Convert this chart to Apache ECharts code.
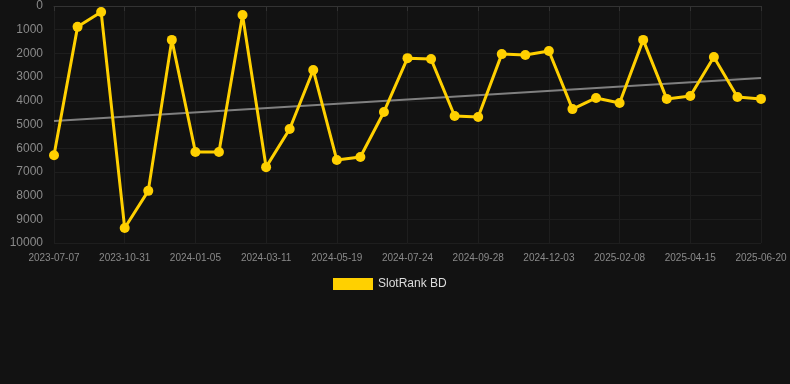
<!DOCTYPE html>
<html><head><meta charset="utf-8">
<script src="https://cdn.jsdelivr.net/npm/echarts@6/dist/echarts.min.js"></script>
<style>html,body{margin:0;padding:0;background:#121212;}#c{width:790px;height:384px;}</style>
</head><body><div id="c"></div>
<script>
const dates = ["2023-07-07","2023-08-15","2023-09-22","2023-10-31","2023-11-22","2023-12-14","2024-01-05","2024-01-27","2024-02-18","2024-03-11","2024-04-03","2024-04-26","2024-05-19","2024-06-10","2024-07-02","2024-07-24","2024-08-15","2024-09-06","2024-09-28","2024-10-20","2024-11-11","2024-12-03","2024-12-25","2025-01-17","2025-02-08","2025-03-02","2025-03-24","2025-04-15","2025-05-07","2025-05-29","2025-06-20"];
const ranks = [6300,880,250,9370,7800,1430,6160,6160,380,6800,5190,2700,6500,6370,4470,2200,2240,4640,4680,2030,2070,1900,4350,3880,4090,1430,3920,3800,2150,3840,3920];
const trendStart = 4850, trendEnd = 3040;
const trend = dates.map((d,i)=> i===0 ? trendStart : (i===dates.length-1 ? trendEnd : null));
const seriesName = "SlotRank BD";

const chart = echarts.init(document.getElementById('c'));
chart.setOption({
  backgroundColor:'#121212',
  animation:false,
  textStyle:{fontFamily:'Liberation Sans, Arial, sans-serif'},
  grid:{left:54,right:29,top:6,bottom:141},
  legend:{data:[seriesName],bottom:89,left:328,itemWidth:40,itemHeight:12,itemGap:10,icon:'rect',
    textStyle:{color:'#dddddd',fontSize:12}},
  xAxis:{type:'category',data:dates,boundaryGap:false,
    axisLine:{show:true,lineStyle:{color:'#333'}},
    axisTick:{show:true,interval:2,length:5,lineStyle:{color:'#333'}},
    axisLabel:{interval:2,color:'#8a8a8a',fontSize:10,margin:10},
    splitLine:{show:true,interval:2,lineStyle:{color:'#1e1e1e'}}},
  yAxis:{type:'value',inverse:true,min:0,max:10000,interval:1000,
    axisLine:{show:false},axisTick:{show:false},
    axisLabel:{color:'#8a8a8a',fontSize:12,margin:11,formatter:v=>String(v)},
    splitLine:{show:true,lineStyle:{color:'#1e1e1e'}}},
  series:[
    {name:'trend',type:'line',data:trend,connectNulls:true,symbol:'none',
      lineStyle:{color:'#808080',width:2},itemStyle:{color:'#808080'},z:1,silent:true},
    {name:seriesName,type:'line',data:ranks,symbol:'circle',symbolSize:10,
      lineStyle:{color:'#FFD000',width:3},itemStyle:{color:'#FFD000'},z:2}
  ]
});
</script></body></html>
